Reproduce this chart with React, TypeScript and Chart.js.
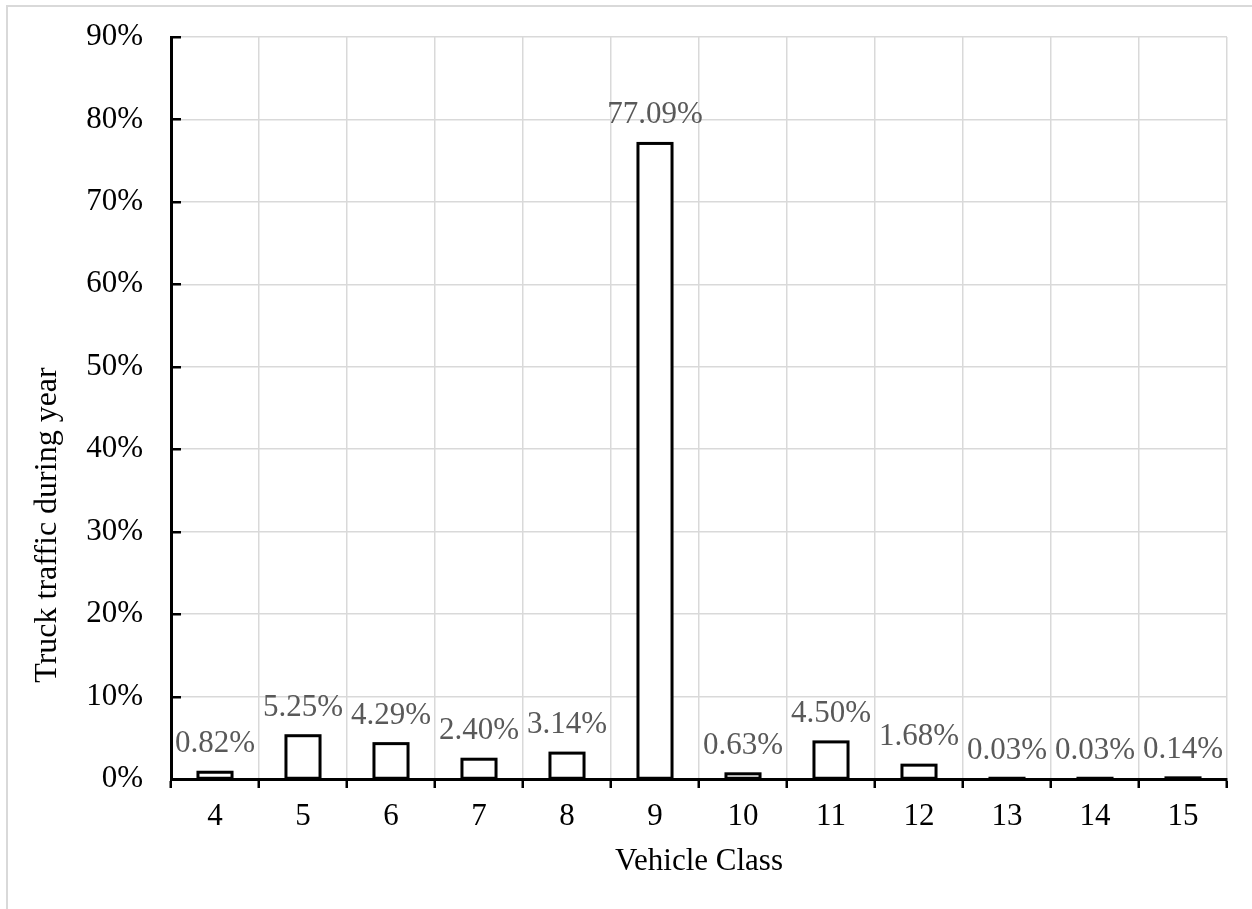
import React, { useEffect, useRef } from "react";
import { Chart, registerables } from "chart.js";

Chart.register(...registerables);

// Vehicle classes on the x axis and their share of yearly truck traffic (%)
const vehicleClasses = ["4", "5", "6", "7", "8", "9", "10", "11", "12", "13", "14", "15"];
const trafficShare = [0.82, 5.25, 4.29, 2.4, 3.14, 77.09, 0.63, 4.5, 1.68, 0.03, 0.03, 0.14];
const yTickValues = [0, 10, 20, 30, 40, 50, 60, 70, 80, 90];

const xTitle = "Vehicle Class";
const yTitle = "Truck traffic during year";

const FONT = "'Liberation Serif', 'Times New Roman', serif";
const GRID = "#d9d9d9";

// Frame, bar outlines, inward y ticks, value labels and axis titles
const decorations = {
  id: "decorations",
  beforeDraw(chart: any) {
    const ctx = chart.ctx;
    ctx.save();
    ctx.fillStyle = "#fff";
    ctx.fillRect(0, 0, chart.width, chart.height);
    ctx.fillStyle = GRID;
    ctx.fillRect(6, 5, chart.width - 6, 2);
    ctx.fillRect(6, 5, 2, chart.height - 5);
    ctx.restore();
  },
  afterDatasetsDraw(chart: any) {
    const ctx = chart.ctx;
    const meta = chart.getDatasetMeta(0);
    ctx.save();
    // outline each bar with a stroke centred on its edges
    ctx.strokeStyle = "#000";
    ctx.lineWidth = 3;
    ctx.lineJoin = "miter";
    meta.data.forEach((bar: any) => {
      const w = bar.width;
      const h = bar.base - bar.y;
      ctx.strokeRect(bar.x - w / 2, bar.y, w, h);
    });
    ctx.font = `31px ${FONT}`;
    ctx.fillStyle = "#595959";
    ctx.textAlign = "center";
    ctx.textBaseline = "alphabetic";
    meta.data.forEach((bar: any, i: number) => {
      const v = trafficShare[i];
      ctx.fillText(v.toFixed(2) + "%", bar.x, bar.y - 20);
    });
    ctx.restore();
  },
  afterDraw(chart: any) {
    const ctx = chart.ctx;
    const y = chart.scales.y;
    const area = chart.chartArea;
    ctx.save();
    // short tick marks pointing into the plot
    ctx.strokeStyle = "#000";
    ctx.lineWidth = 2.5;
    yTickValues.forEach((v) => {
      const py = Math.round(y.getPixelForValue(v)) + 0.25;
      ctx.beginPath();
      ctx.moveTo(area.left, py);
      ctx.lineTo(area.left + 10, py);
      ctx.stroke();
    });
    // axis titles
    ctx.fillStyle = "#000";
    ctx.font = `31px ${FONT}`;
    ctx.textAlign = "center";
    ctx.textBaseline = "alphabetic";
    ctx.fillText(xTitle, (area.left + area.right) / 2, 870);
    ctx.font = `32px ${FONT}`;
    ctx.translate(56, 525);
    ctx.rotate(-Math.PI / 2);
    ctx.fillText(yTitle, 0, 0);
    ctx.restore();
  },
};

export default function App() {
  const canvasRef = useRef<HTMLCanvasElement | null>(null);

  useEffect(() => {
    const canvas = canvasRef.current;
    if (!canvas) return;
    const chart = new Chart(canvas, {
      type: "bar",
      data: {
        labels: vehicleClasses,
        datasets: [
          {
            data: trafficShare,
            backgroundColor: "#ffffff",
            borderWidth: 0,
            barPercentage: 0.387,
            categoryPercentage: 1,
          },
        ],
      },
      options: {
        responsive: false,
        animation: false,
        events: [],
        layout: { padding: { left: 0, top: 37, right: 25, bottom: 0 } },
        plugins: {
          legend: { display: false },
          tooltip: { enabled: false },
          title: { display: false },
        },
        scales: {
          x: {
            type: "category",
            offset: true,
            grid: {
              offset: true,
              color: GRID,
              lineWidth: 1.5,
              drawTicks: true,
              tickLength: 9,
              tickColor: "#000",
              tickWidth: 2.5,
            },
            border: { display: true, color: "#000", width: 3, z: 1 },
            ticks: {
              color: "#000",
              font: { family: FONT, size: 31 },
              padding: 10,
              maxRotation: 0,
              autoSkip: false,
            },
            afterFit(scale: any) {
              scale.height = 130;
              scale.paddingLeft = 0;
              scale.paddingRight = 0;
            },
          },
          y: {
            min: 0,
            max: 90,
            grid: {
              color: GRID,
              lineWidth: 1.5,
              drawTicks: false,
            },
            border: { display: true, color: "#000", width: 3, z: 1 },
            ticks: {
              stepSize: 10,
              color: "#000",
              font: { family: FONT, size: 31 },
              padding: 28,
              callback: (v: any) => v + "%",
            },
            afterFit(scale: any) {
              scale.width = 171;
              scale.paddingTop = 0;
              scale.paddingBottom = 0;
            },
          },
        },
      },
      plugins: [decorations],
    });
    return () => chart.destroy();
  }, []);

  return (
    <div style={{ position: "absolute", left: 0, top: 0, width: 1252, height: 909, background: "#fff" }}>
      <canvas ref={canvasRef} width={1252} height={909} style={{ display: "block" }} />
    </div>
  );
}
